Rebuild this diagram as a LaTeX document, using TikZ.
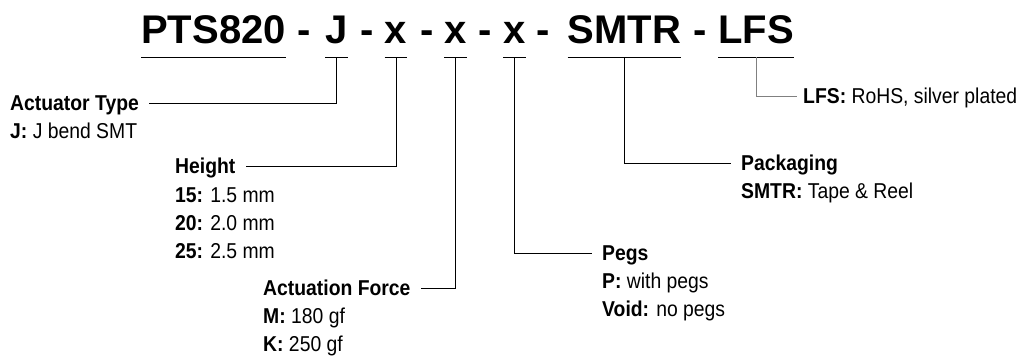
\documentclass[tikz,border=0pt]{standalone}
\usepackage{fontspec}
\setmainfont{Liberation Sans}
\newfontfamily\narrowsans[FakeStretch=0.9]{Liberation Sans}
\begin{document}
\begin{tikzpicture}[x=1pt, y=-1pt]
    \tikzstyle{part} = [inner sep=0pt, anchor=base, font=\fontsize{40}{40}\selectfont\bfseries]
    \tikzstyle{head} = [inner xsep=10pt, inner ysep=0pt, text height=14pt, text depth=0pt, anchor=base west, font=\narrowsans\fontsize{21.5}{22}\selectfont\bfseries]
    \tikzstyle{opt} = [inner sep=0pt, anchor=base west, font=\narrowsans\fontsize{21.5}{22}\selectfont]
    \tikzstyle{lead} = [draw, line width=1pt]
    \useasboundingbox (0,0) rectangle (1019,356);

      % part number
      \node[part] (pts)  at (213.5,43) {PTS820};
      \node[part] (d1)   at (304,43)   {-};
      \node[part] (j)    at (336.5,43) {J};
      \node[part] (d2)   at (367,43)   {-};
      \node[part] (h)    at (396,43)   {x};
      \node[part] (d3)   at (427,43)   {-};
      \node[part] (f)    at (455.5,43) {x};
      \node[part] (d4)   at (485,43)   {-};
      \node[part] (pg)   at (514.5,43) {x};
      \node[part] (d5)   at (543,43)   {-};
      \node[part] (smtr) at (624.5,43) {SMTR};
      \node[part] (d6)   at (700,43)   {-};
      \node[part] (lfs)  at (756,43)   {LFS};

      \foreach \p in {pts,j,h,f,pg,smtr,lfs}
        \draw[lead] ([yshift=-14pt]\p.base west) -- ([yshift=-14pt]\p.base east);

      % option blocks
      \node[head] (act)  at (0,110)   {Actuator Type};
      \node[opt]  (act1) at (10,138)  {{\bfseries J:} J bend SMT};

      \node[head] (hgt)  at (165,173) {Height};
      \node[opt]  (hgt1) at (175,202) {{\bfseries 15:} 1.5 mm};
      \node[opt]  (hgt2) at (175,230) {{\bfseries 20:} 2.0 mm};
      \node[opt]  (hgt3) at (175,258) {{\bfseries 25:} 2.5 mm};

      \node[head] (frc)  at (253,295) {Actuation Force};
      \node[opt]  (frc1) at (263,323) {{\bfseries M:} 180 gf};
      \node[opt]  (frc2) at (263,351) {{\bfseries K:} 250 gf};

      \node[head] (peg)  at (592,260) {Pegs};
      \node[opt]  (peg1) at (602,288) {{\bfseries P:} with pegs};
      \node[opt]  (peg2) at (602,316) {{\bfseries Void:} no pegs};

      \node[head] (pack)  at (731,170) {Packaging};
      \node[opt]  (pack1) at (741,198) {{\bfseries SMTR:} Tape \& Reel};

      \node[head, inner xsep=6pt, font=\narrowsans\fontsize{21.5}{22}\selectfont] (plate) at (797,103) {{\bfseries LFS:} RoHS, silver plated};

      % leaders
      \draw[lead] ([yshift=-14pt]j.base) |- (act.east);
      \draw[lead] ([yshift=-14pt]h.base) |- (hgt.east);
      \draw[lead] ([yshift=-14pt]f.base) |- (frc.east);
      \draw[lead] ([yshift=-14pt]pg.base) |- (peg.west);
      \draw[lead] ([yshift=-14pt]smtr.base) |- (pack.west);
      \draw[lead, gray] ([yshift=-14pt]lfs.base) |- (plate.west);
    \end{tikzpicture}
\end{document}
